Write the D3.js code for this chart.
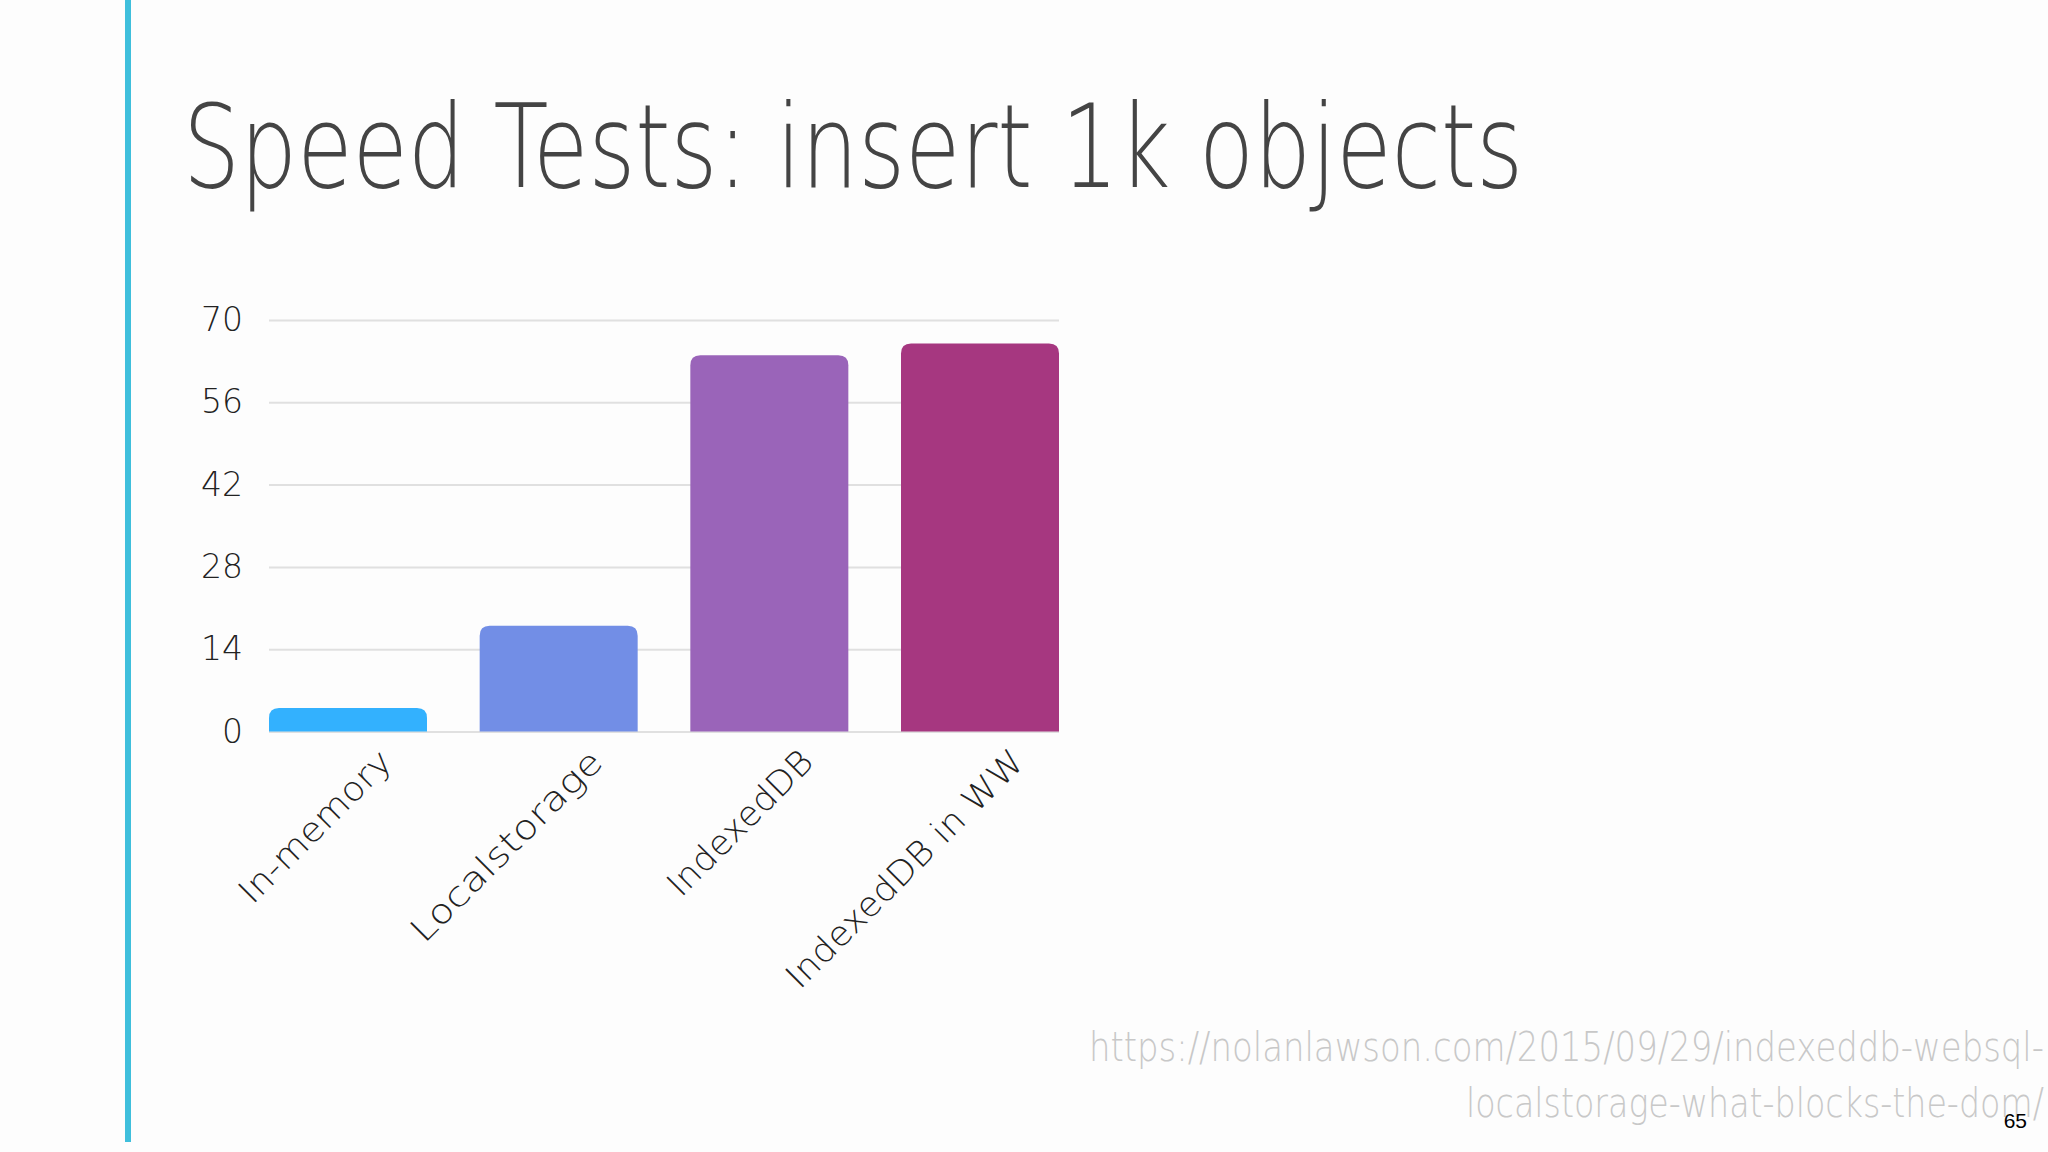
<!DOCTYPE html>
<html>
<head>
<meta charset="utf-8">
<script src="https://cdn.jsdelivr.net/npm/d3@7"></script>
<style>
  html, body { margin: 0; padding: 0; background: #fdfdfd; }
  svg { display: block; }
</style>
</head>
<body>
<div id="slide"></div>
<script>
// chart data
var categories = ["In-memory", "Localstorage", "IndexedDB", "IndexedDB in WW"];
var values     = [4, 18, 64, 66];
var colors     = ["#33b1fe", "#728ee6", "#9a64b9", "#a63780"];
var yTicks     = [0, 14, 28, 42, 56, 70];
var labelLen   = [200, 255, 190, 320]; // rotated label lengths

var W = 2048, H = 1152;
var margin = {top: 320, left: 269, right: 2048 - 1059, bottom: 1152 - 731.5};

var svg = d3.select("#slide").append("svg")
    .attr("width", W)
    .attr("height", H);

svg.append("rect").attr("width", W).attr("height", H).attr("fill", "#fdfdfd");

// cyan bar on the left of the slide
svg.append("rect")
    .attr("x", 125).attr("y", 0)
    .attr("width", 6).attr("height", 1142)
    .attr("fill", "#3fbfdc");

// title
svg.append("text")
    .attr("x", 183).attr("y", 187)
    .attr("textLength", 1340)
    .attr("lengthAdjust", "spacingAndGlyphs")
    .style("font-family", "'DejaVu Sans', Lato, sans-serif")
    .style("font-weight", 200)
    .style("font-size", "116px")
    .attr("fill", "#444")
    .text("Speed Tests: insert 1k objects");

var x = d3.scaleBand()
    .domain(categories)
    .range([margin.left, W - margin.right])
    .paddingInner(0.25)
    .paddingOuter(0);

var y = d3.scaleLinear()
    .domain([0, 70])
    .range([H - margin.bottom, margin.top]);

// gridlines + y tick labels
var yAxis = d3.axisLeft(y)
    .tickValues(yTicks)
    .tickSize(-(x.range()[1] - x.range()[0]))
    .tickPadding(26);

var gy = svg.append("g")
    .attr("transform", "translate(" + margin.left + ",0)")
    .call(yAxis);
gy.select(".domain").remove();
gy.selectAll(".tick line")
    .attr("stroke", "#e0e0e0")
    .attr("stroke-width", 2);
gy.selectAll(".tick text")
    .attr("fill", "#222")
    .style("font-family", "'DejaVu Sans', sans-serif")
    .style("font-weight", 200)
    .style("font-size", "33px");

// bars with rounded top corners
var r = 10;
function barPath(d, i){
    var x0 = x(categories[i]), w = x.bandwidth();
    var y0 = y(d), yb = y(0);
    var rr = Math.min(r, (yb - y0));
    return "M" + x0 + "," + yb +
        "V" + (y0 + rr) +
        "Q" + x0 + "," + y0 + " " + (x0 + rr) + "," + y0 +
        "H" + (x0 + w - rr) +
        "Q" + (x0 + w) + "," + y0 + " " + (x0 + w) + "," + (y0 + rr) +
        "V" + yb + "Z";
}
svg.append("g").selectAll("path")
    .data(values)
    .enter().append("path")
    .attr("d", barPath)
    .attr("fill", function(d, i){ return colors[i]; });

// rotated category labels
svg.append("g").selectAll("text")
    .data(categories)
    .enter().append("text")
    .attr("transform", function(d){
        var cx = x(d) + x.bandwidth() / 2 + 46;
        return "translate(" + cx + "," + 764 + ") rotate(-45)";
    })
    .attr("text-anchor", "end")
    .attr("textLength", function(d, i){ return labelLen[i]; })
    .attr("lengthAdjust", "spacingAndGlyphs")
    .attr("fill", "#222")
    .style("font-family", "'DejaVu Sans', sans-serif")
    .style("font-weight", 200)
    .style("font-size", "34px")
    .text(function(d){ return d; });

// source link
var src = [
    {t: "https://nolanlawson.com/2015/09/29/indexeddb-websql-", y: 1061, len: 955},
    {t: "localstorage-what-blocks-the-dom/", y: 1117, len: 578}
];
svg.append("g").selectAll("text")
    .data(src)
    .enter().append("text")
    .attr("x", 2044).attr("y", function(d){ return d.y; })
    .attr("text-anchor", "end")
    .attr("textLength", function(d){ return d.len; })
    .attr("lengthAdjust", "spacingAndGlyphs")
    .attr("fill", "#c8c8c8")
    .style("font-family", "'DejaVu Sans', Lato, sans-serif")
    .style("font-weight", 200)
    .style("font-size", "40px")
    .text(function(d){ return d.t; });

// page number
svg.append("text")
    .attr("x", 2027).attr("y", 1128)
    .attr("text-anchor", "end")
    .attr("fill", "#000")
    .style("font-family", "'Liberation Sans', Arial, sans-serif")
    .style("font-size", "21px")
    .text("65");
</script>
</body>
</html>
